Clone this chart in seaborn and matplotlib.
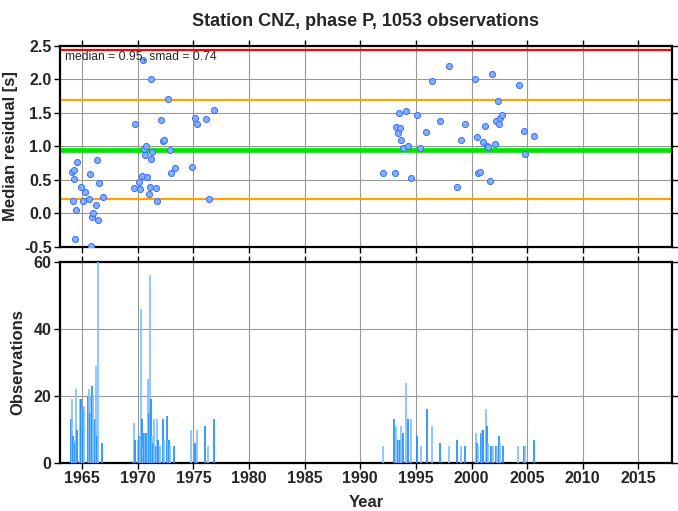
import numpy as np
import pandas as pd
import matplotlib
matplotlib.use("Agg")
import matplotlib.pyplot as plt
import seaborn as sns

# ---- data ----
point_years = [1964.04, 1964.22, 1964.52, 1964.28, 1964.13, 1964.46, 1964.37, 1964.88, 1965.06, 1965.24,
               1965.57, 1965.72, 1965.81, 1965.90, 1965.99, 1966.23, 1966.32, 1966.41, 1966.50, 1966.86,
               1969.74, 1969.68, 1970.14, 1970.20, 1970.38, 1970.44, 1970.53, 1970.62, 1970.71, 1970.80,
               1970.98, 1971.07, 1971.16, 1971.22, 1971.31, 1971.61, 1971.73, 1972.06, 1972.27, 1972.39,
               1972.75, 1972.90, 1972.99, 1973.32, 1974.85, 1975.18, 1975.33, 1976.11, 1976.38, 1976.86,
               1992.07, 1993.09, 1994.59, 1993.18, 1993.48, 1993.60, 1993.42, 1993.66, 1993.84, 1994.08,
               1994.26, 1995.10, 1995.40, 1995.94, 1996.45, 1997.20, 1997.98, 1998.73, 1999.06, 1999.42,
               2000.35, 2000.50, 2000.59, 2000.80, 2001.01, 2001.25, 2001.37, 2001.46, 2001.67, 2001.85,
               2002.09, 2002.18, 2002.39, 2002.45, 2002.57, 2002.78, 2004.26, 2004.71, 2004.83, 2005.58]
point_resid = [0.62, 0.65, 0.77, 0.52, 0.18, 0.05, -0.38, 0.39, 0.18, 0.32,
               0.21, 0.59, -0.48, -0.06, 0.00, 0.13, 0.80, -0.10, 0.46, 0.24,
               1.34, 0.38, 0.47, 0.36, 0.56, 2.29, 0.96, 0.87, 1.01, 0.54,
               0.29, 0.40, 0.81, 2.01, 0.91, 0.38, 0.19, 1.39, 1.08, 1.10,
               1.70, 0.94, 0.60, 0.67, 0.69, 1.42, 1.34, 1.41, 0.22, 1.54,
               0.61, 0.61, 0.53, 1.29, 1.49, 1.27, 1.20, 1.10, 0.98, 1.53,
               1.01, 1.46, 0.98, 1.21, 1.98, 1.38, 2.20, 0.40, 1.09, 1.34,
               2.01, 1.14, 0.61, 0.62, 1.07, 1.31, 1.00, 0.99, 0.49, 2.08,
               1.04, 1.38, 1.68, 1.34, 1.42, 1.46, 1.92, 1.23, 0.89, 1.16]

bar_years = [1964.00, 1964.09, 1964.18, 1964.27, 1964.36, 1964.42, 1964.51, 1964.81, 1964.90, 1964.99,
             1965.08, 1965.16, 1965.52, 1965.61, 1965.70, 1965.79, 1965.91, 1966.00, 1966.18, 1966.27,
             1966.33, 1966.45, 1966.81,
             1969.64, 1969.73, 1970.00, 1970.09, 1970.18, 1970.24, 1970.30, 1970.39, 1970.48, 1970.57,
             1970.66, 1970.75, 1970.90, 1970.99, 1971.08, 1971.17, 1971.26, 1971.62, 1971.71, 1971.38,
             1971.47, 1971.80, 1972.00, 1972.25, 1972.34, 1972.63, 1972.72, 1972.84, 1972.93, 1973.26,
             1974.82, 1975.18, 1975.33, 1976.08, 1976.35, 1976.83,
             1992.07, 1993.05, 1993.17, 1993.41, 1993.50, 1993.59, 1993.68, 1993.83, 1994.10, 1994.28,
             1994.58, 1995.12, 1995.42, 1995.96, 1996.47, 1997.20, 1998.02, 1998.74, 1999.10, 1999.43,
             2000.36, 2000.51, 2000.60, 2000.84, 2000.96, 2001.05, 2001.29, 2001.38, 2001.47, 2001.71,
             2001.89, 2002.16, 2002.25, 2002.46, 2002.55, 2002.81, 2004.22, 2004.73, 2004.82, 2005.60]
bar_counts = [13, 19, 8, 7, 6, 22, 10, 19, 19, 16,
              16, 17, 20, 22, 15, 20, 23, 20, 13, 29,
              8, 60, 6,
              12, 7, 7, 8, 8, 5, 46, 13, 5, 9,
              9, 9, 25, 15, 56, 19, 8, 5, 13, 6,
              13, 7, 5, 13, 7, 14, 7, 7, 5, 5,
              10, 6, 10, 11, 5, 13,
              5, 13, 11, 7, 7, 7, 11, 9, 24, 13,
              13, 8, 5, 16, 11, 6, 5, 7, 5, 5,
              9, 6, 5, 9, 10, 10, 16, 11, 6, 5,
              5, 5, 5, 8, 6, 5, 5, 5, 5, 7]

median_val = 0.95
smad_val = 0.74
n_obs = 1053
station = "CNZ"
phase = "P"

# ---- style ----
sns.set_theme(style="white")
plt.rcParams['font.family'] = ['Liberation Sans', 'DejaVu Sans']
plt.rcParams['font.weight'] = 'bold'

fig = plt.figure(figsize=(6.78, 5.11), dpi=100)
ax1 = fig.add_axes([0.0885, 0.5166, 0.9022, 0.3940])
ax2 = fig.add_axes([0.0885, 0.0939, 0.9022, 0.3934])

df = pd.DataFrame({"year": point_years, "resid": point_resid})

for ax in (ax1, ax2):
    ax.set_xlim(1963, 2018)
    ax.set_xticks(np.arange(1965, 2016, 5))
    ax.grid(True, color='#999999', linewidth=0.8)
    ax.set_axisbelow(True)
    for s in ax.spines.values():
        s.set_color('black')
        s.set_linewidth(1.6)
    ax.tick_params(axis='both', direction='out', length=4, width=1, color='black',
                   labelsize=11.5, top=True, right=True, bottom=True, left=True, pad=2)

# top panel
ax1.axhline(median_val + 2 * smad_val, color='#ff0000', lw=1.6, zorder=2)
ax1.axhline(median_val + smad_val, color='#ffa500', lw=1.6, zorder=2)
ax1.axhline(median_val - smad_val, color='#ffa500', lw=1.6, zorder=2)
ax1.axhline(median_val, color='#00e600', lw=3.4, zorder=2)
sns.scatterplot(data=df, x="year", y="resid", ax=ax1, s=19, color='#80b0ff',
                edgecolor='#3a6cff', linewidth=0.7, zorder=3, legend=False)
ax1.set_ylim(-0.5, 2.5)
ax1.set_yticks(np.arange(-0.5, 2.51, 0.5))
ax1.set_yticklabels([f"{v:.1f}" for v in np.arange(-0.5, 2.51, 0.5)])
ax1.set_xticklabels([])
ax1.set_xlabel("")
ax1.set_ylabel("Median residual [s]", fontsize=12, fontweight='bold', labelpad=4)
ax1.text(0.008, 0.975, f"median = {median_val:.2f}, smad = {smad_val:.2f}",
         transform=ax1.transAxes, fontsize=8.7, fontweight='normal', va='top', ha='left', zorder=4)
ax1.set_title(f"Station {station}, phase {phase}, {n_obs} observations",
              fontsize=13, fontweight='bold', pad=14)

# bottom panel
colors = ['#1e90ff' if i % 2 == 0 else '#80c0ff' for i in range(len(bar_years))]
ax2.vlines(bar_years, 0, bar_counts, colors=colors, linewidth=1.25, zorder=3)
ax2.set_ylim(0, 60)
ax2.set_yticks([0, 20, 40, 60])
ax2.set_xlabel("Year", fontsize=12, fontweight='bold', labelpad=6)
ax2.set_ylabel("Observations", fontsize=12, fontweight='bold', labelpad=6)

fig.savefig("out.png", dpi=100)
